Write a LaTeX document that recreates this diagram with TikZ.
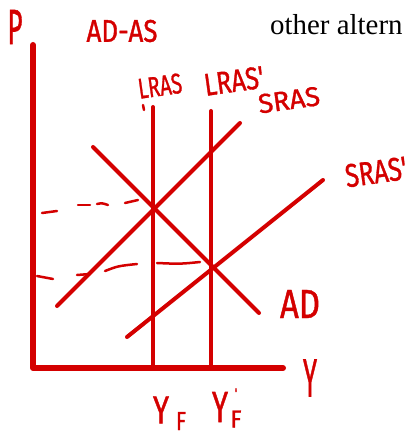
\documentclass[tikz,border=0pt]{standalone}
\usepackage{fontspec}
\newfontfamily\handfont{Fira Sans}[FakeBold=1.2]
\newfontfamily\docserif{Liberation Serif}
\definecolor{pen}{RGB}{212,0,0}
\newcommand{\handtxt}[3]{\resizebox{#1bp}{#2bp}{\handfont #3}}
\begin{document}
\begin{tikzpicture}[x=1bp,y=-1bp,
  axis/.style={pen,line width=6bp,line cap=round,line join=round},
  curve/.style={pen,line width=4bp,line cap=round},
  guide/.style={pen,line width=2.5bp,line cap=round},
  hand/.style={text=pen,inner sep=0pt}]
\useasboundingbox (0,0) rectangle (412,435);
% axes
\coordinate (ytop) at (33,45);
\coordinate (origin) at (33,368);
\coordinate (xend) at (283,368);
\draw[axis] (ytop) -- (origin) -- (xend);
% long-run AS
\coordinate (lras1) at (153,107); \coordinate (lras0) at (153,368);
\coordinate (lrasp1) at (211,111); \coordinate (lrasp0) at (211,368);
\draw[curve] (lras1) -- (lras0);
\draw[curve] (lrasp1) -- (lrasp0);
% short-run AS
\coordinate (sras0) at (57,306); \coordinate (sras1) at (240,123);
\coordinate (srasp0) at (127,337); \coordinate (srasp1) at (323,180);
\draw[curve] (sras0) -- (sras1);
\draw[curve] (srasp0) -- (srasp1);
% AD
\coordinate (ad0) at (93,147); \coordinate (ad1) at (259,313);
\draw[curve] (ad0) -- (ad1);
% dashed guides
\draw[guide] (42,213) -- (57,211);
\draw[guide] (78,205) -- (90,205);
\draw[guide] (97,204) .. controls (102,203) .. (108,205);
\draw[guide] (125,203) -- (138,200);
\draw[guide] (37,276) -- (53,279);
\draw[guide] (77,275) -- (90,274);
\draw[guide] (105,271) .. controls (118,266) .. (137,264);
\draw[guide] (157,263) .. controls (180,264) .. (200,262);
% small tick under LRAS
\draw[guide] (143,105) -- (144,110);
% labels
\node[hand] (lblP) at (15,27) {\handtxt{15}{34}{P}};
\node[hand] (title) at (122,31) {\handtxt{71}{22}{AD-AS}};
\node[hand,rotate=8] (lblLRAS) at (160,86) {\handtxt{44}{20}{LRAS}};
\node[hand,rotate=8] (lblLRASp) at (234,81) {\handtxt{60}{22}{LRAS'}};
\node[hand,rotate=8] (lblSRAS) at (289,100) {\handtxt{62}{19}{SRAS}};
\node[hand,rotate=8] (lblSRASp) at (376,172) {\handtxt{62}{23}{SRAS'}};
\node[hand] (lblAD) at (300,304) {\handtxt{40}{28}{AD}};
\node[hand] (lblY) at (310,378) {\handtxt{14}{37}{Y}};
\node[hand] (lblYF) at (161,410) {\handtxt{16}{27}{Y}};
\node[hand] (lblYFs) at (181,421) {\handtxt{10}{18}{F}};
\node[hand] (lblYFp) at (220,407) {\handtxt{16}{30}{Y}};
\node[hand] (lblYFpp) at (236,393) {\handtxt{3}{9}{'}};
\node[hand] (lblYFps) at (236,419) {\handtxt{11}{17}{F}};
% document text
\node[anchor=base west,inner sep=0pt,font=\docserif\fontsize{29}{29}\selectfont] (doc) at (270,35) {other altern};
\end{tikzpicture}
\end{document}
